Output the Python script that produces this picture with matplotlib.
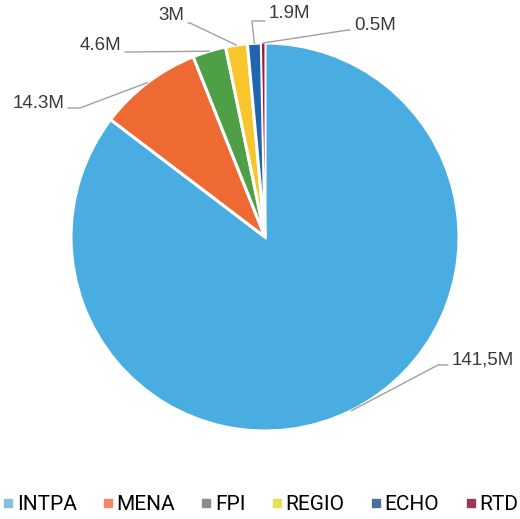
import numpy as np
import matplotlib
matplotlib.use("Agg")
import matplotlib.pyplot as plt
from matplotlib.lines import Line2D

# =========================
# DATA
# =========================
categories = ["INTPA", "MENA", "FPI", "REGIO", "ECHO", "RTD"]
values = [141.5, 14.3, 4.6, 3.0, 1.9, 0.5]
value_labels = ["141,5M", "14.3M", "4.6M", "3M", "1.9M", "0.5M"]
colors = ["#49ade2", "#ef6a32", "#4f9f47", "#f6c62c", "#2066ae", "#a4183c"]
legend_colors = ["#86c1dc", "#f08a66", "#8c8c8c", "#e3e05a", "#4a6f9a", "#9b3a58"]

# =========================
# LAYOUT (pixel units, y measured from top)
# =========================
W, H = 520, 519
center = (265, H - 237)
radius = 194
# (kink x, kink y, text x, text y, ha) for each label
label_layout = [
    (438, 365, 452, 360, "left"),
    (80, 108, 64, 103, "right"),
    (130, 52, 121, 45, "right"),
    (190, 23, 184, 15, "right"),
    (252, 21, 269, 14, "left"),
    (348, 30, 354, 25, "left"),
]

plt.rcParams["font.family"] = ["Roboto", "DejaVu Sans"]

fig = plt.figure(figsize=(W / 100, H / 100), dpi=100)
ax = fig.add_axes([0, 0, 1, 1])

wedges, _ = ax.pie(
    values,
    colors=colors,
    startangle=90,
    counterclock=False,
    center=center,
    radius=radius,
    wedgeprops=dict(edgecolor="white", linewidth=2.2),
)
# thin slice would vanish under the white edge
wedges[-1].set_linewidth(0.8)

# pie() resets the limits, so set them afterwards
ax.set_xlim(0, W)
ax.set_ylim(0, H)
ax.set_aspect("equal")
ax.axis("off")

for w, lab, (kx, ky, tx, ty, ha) in zip(wedges, value_labels, label_layout):
    ang = np.deg2rad((w.theta1 + w.theta2) / 2)
    sx = center[0] + radius * 1.0 * np.cos(ang)
    sy = center[1] + radius * 1.0 * np.sin(ang)
    ex = tx - 4 if ha == "left" else tx + 4
    ax.plot([sx, kx, ex], [sy, H - ky, H - ky], color="#a0a0a0", lw=1.0,
            solid_capstyle="round")
    ax.text(tx, H - ty, lab, ha=ha, va="center", fontsize=13.5,
            color="#3a3a3a", family=["Liberation Sans", "DejaVu Sans"])

handles = [Line2D([0], [0], marker="s", linestyle="none", markersize=5.5,
                  markerfacecolor=c, markeredgecolor=c) for c in legend_colors]
fig.legend(handles, categories, loc="center", bbox_to_anchor=(0.5, 14 / H),
           ncol=6, frameon=False, fontsize=15, handlelength=0.6,
           handletextpad=0.12, columnspacing=1.2, borderaxespad=0)

fig.savefig("out.png", dpi=100)
